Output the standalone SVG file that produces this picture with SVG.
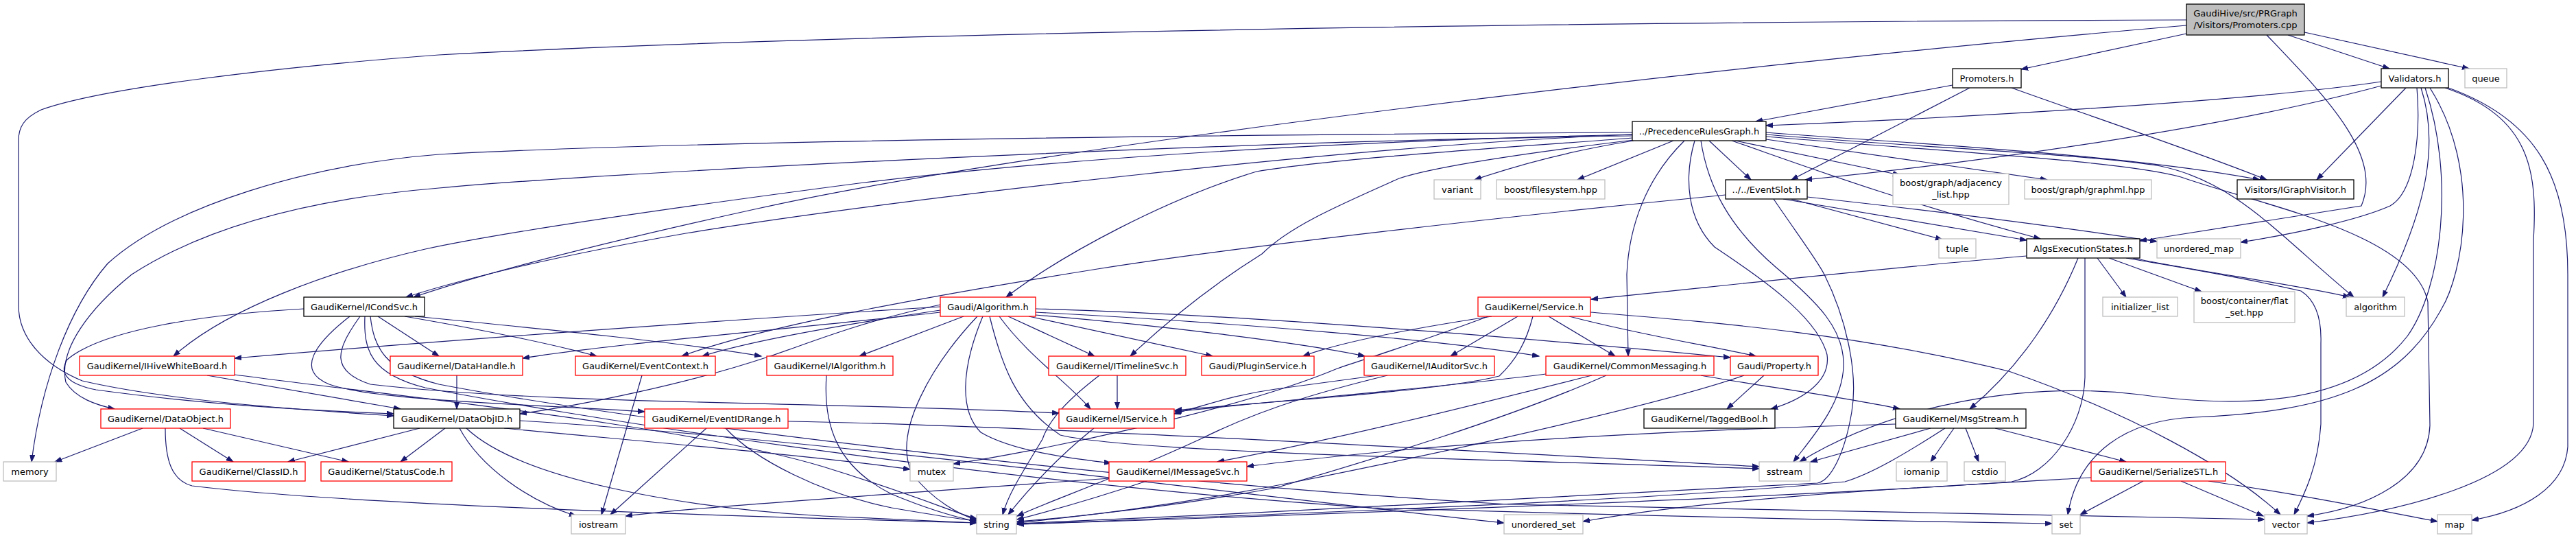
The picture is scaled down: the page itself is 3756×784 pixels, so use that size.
<svg xmlns="http://www.w3.org/2000/svg" width="3756" height="784" viewBox="0 0 3756 784">
<style>
.e{fill:none;stroke:#191970;stroke-width:1.2;marker-end:url(#ah)}
.nb{fill:#fff;stroke:#000;stroke-width:1.3}
.nr{fill:#fff;stroke:#ff0000;stroke-width:1.3}
.ng{fill:#fff;stroke:#bfbfbf;stroke-width:1.3}
.nroot{fill:#bfbfbf;stroke:#000;stroke-width:1.3}
text{font-family:"DejaVu Sans","Liberation Sans",sans-serif;font-size:13px;text-anchor:middle;fill:#000}
</style>
<defs>
<marker id="ah" markerWidth="12" markerHeight="9" refX="10" refY="4" orient="auto" markerUnits="userSpaceOnUse"><path d="M0,0.5 L10,4 L0,7.5 z" fill="#191970" stroke="#191970" stroke-width="1"/></marker>
</defs>
<rect width="3756" height="784" fill="#fff"/>
<g id="edges">
<path class="e" d="M3188,49 L2947,101"/>
<path class="e" d="M3336,51 L3484,100"/>
<path class="e" d="M3360,47 L3600,100"/>
<path class="e" d="M3305,51 C3390,140 3475,225 3443,300 L3120,351"/>
<path class="e" d="M3188,37 C2500,95 1500,215 1100,305 C850,360 700,400 603,433"/>
<path class="e" d="M3188,29 C2000,33 1100,55 640,80 C400,98 150,128 60,160 C35,172 27,185 27,205 L27,445 C27,490 60,530 120,555 C250,585 450,598 574,606"/>
<path class="e" d="M2847,124 L2560,177"/>
<path class="e" d="M2872,128 L2612,262"/>
<path class="e" d="M2933,128 C3050,170 3200,220 3305,262"/>
<path class="e" d="M3472,119 C3300,145 2900,170 2575,183"/>
<path class="e" d="M3472,125 C3250,185 2900,235 2632,262"/>
<path class="e" d="M3508,128 L3378,262"/>
<path class="e" d="M3524,128 C3530,200 3520,280 3485,300 C3440,320 3350,340 3267,353"/>
<path class="e" d="M3530,128 C3560,220 3530,320 3474,433"/>
<path class="e" d="M3536,128 C3580,260 3560,420 3510,490 C3440,580 3300,600 3120,575 C2950,555 2760,590 2624,673"/>
<path class="e" d="M3543,128 C3620,250 3590,400 3560,450 C3500,560 3400,600 3200,608 C3100,612 3030,660 3015,750"/>
<path class="e" d="M3565,128 C3690,170 3700,250 3694,350 L3694,617 C3690,700 3500,745 3364,762"/>
<path class="e" d="M3570,128 C3700,175 3744,260 3744,400 L3744,651 C3740,710 3680,745 3604,758"/>
<path class="e" d="M2492,205 L2553,262"/>
<path class="e" d="M2530,205 L2770,255"/>
<path class="e" d="M2575,203 L2985,262"/>
<path class="e" d="M2382,205 C2300,218 2220,238 2150,262"/>
<path class="e" d="M2440,205 L2300,262"/>
<path class="e" d="M2575,193 C2800,210 3100,225 3295,262"/>
<path class="e" d="M2575,196 C2800,215 3050,225 3150,242 C3260,265 3320,340 3432,433"/>
<path class="e" d="M2575,199 C2850,222 3100,235 3180,258 C3300,300 3520,340 3540,440 L3543,620 C3540,700 3450,740 3364,752"/>
<path class="e" d="M2525,205 C2640,245 2760,290 2975,348"/>
<path class="e" d="M2456,205 C2400,260 2375,330 2372,400 L2374,519"/>
<path class="e" d="M2471,205 C2455,260 2460,320 2500,360 C2560,400 2650,460 2664,517 C2670,560 2620,585 2582,596"/>
<path class="e" d="M2480,205 C2490,270 2520,330 2590,390 C2650,440 2690,480 2688,534 C2686,590 2640,640 2615,673"/>
<path class="e" d="M2380,196 C2000,210 1300,290 1000,340 C800,375 680,405 592,433"/>
<path class="e" d="M2380,201 C2200,215 1950,230 1832,250 C1700,290 1550,370 1467,433"/>
<path class="e" d="M2382,204 C2250,220 2100,240 2040,260 C1950,300 1880,330 1840,370 C1760,420 1700,470 1648,519"/>
<path class="e" d="M2380,196 C2000,205 1600,225 1260,266 C1000,300 750,335 620,363 C480,395 330,450 253,519"/>
<path class="e" d="M2380,198 C1800,205 900,250 640,274 C450,290 300,330 192,400 C130,450 85,510 96,557 C110,580 140,590 167,596"/>
<path class="e" d="M2380,193 C1800,196 1000,205 640,225 C450,240 250,300 157,384 C100,450 60,560 46,673"/>
<path class="e" d="M2516,284 C2200,315 1800,360 1600,392 C1300,440 1100,480 994,519"/>
<path class="e" d="M2600,290 L2955,350"/>
<path class="e" d="M2612,290 L2832,349"/>
<path class="e" d="M2635,287 C2800,305 3000,330 3145,352"/>
<path class="e" d="M2586,290 C2620,340 2650,380 2660,400 C2690,460 2710,540 2700,600 C2690,660 2670,700 2650,704 C2400,720 1900,745 1483,763"/>
<path class="e" d="M2955,373 C2700,395 2500,418 2320,436"/>
<path class="e" d="M3030,376 C3000,450 2950,530 2872,596"/>
<path class="e" d="M3058,376 L3100,433"/>
<path class="e" d="M3075,376 L3210,425"/>
<path class="e" d="M3110,376 C3200,395 3350,415 3426,433"/>
<path class="e" d="M3100,376 C3150,385 3250,400 3355,424 C3380,440 3385,470 3384,500 L3384,618 C3380,680 3360,720 3345,750"/>
<path class="e" d="M3040,376 L3040,550 C3038,620 2990,690 2933,702 C2700,720 2000,748 1483,764"/>
<path class="e" d="M443,450 C300,458 150,480 98,524 C85,545 100,560 140,568 C300,590 450,598 574,603"/>
<path class="e" d="M551,461 L640,519"/>
<path class="e" d="M590,461 C700,480 800,500 870,519"/>
<path class="e" d="M605,461 C800,480 1000,500 1110,519"/>
<path class="e" d="M510,461 C460,500 430,540 480,560 C550,585 800,590 940,600"/>
<path class="e" d="M525,461 C490,510 480,540 540,560 C800,590 1200,585 1544,602"/>
<path class="e" d="M532,461 C530,510 540,545 620,565 C800,600 1400,700 2000,740 C2500,755 2800,760 2992,763"/>
<path class="e" d="M540,461 C545,505 560,540 640,560 C900,610 1600,700 2200,735 C2800,748 3100,752 3302,757"/>
<path class="e" d="M1371,447 C1000,470 600,500 342,522"/>
<path class="e" d="M1371,452 C1250,470 1100,495 1024,519"/>
<path class="e" d="M1371,455 C1150,480 900,500 762,522"/>
<path class="e" d="M1371,444 C1250,470 1180,500 1120,520 C1000,560 850,590 758,603"/>
<path class="e" d="M1405,461 L1253,519"/>
<path class="e" d="M1425,461 C1360,530 1300,630 1330,690 C1360,730 1400,750 1424,758"/>
<path class="e" d="M1433,461 C1400,540 1400,600 1430,630 C1480,660 1580,670 1620,675"/>
<path class="e" d="M1443,461 C1460,530 1480,590 1546,634 C1650,660 2200,670 2565,683"/>
<path class="e" d="M1457,461 C1500,520 1560,560 1590,596"/>
<path class="e" d="M1470,461 L1596,519"/>
<path class="e" d="M1500,461 L1768,519"/>
<path class="e" d="M1510,450 C1800,458 2200,490 2523,521"/>
<path class="e" d="M1510,455 C1800,470 2100,495 2244,519"/>
<path class="e" d="M1510,459 C1700,475 1900,500 1990,519"/>
<path class="e" d="M1629,547 L1629,596"/>
<path class="e" d="M1603,547 C1560,580 1530,610 1520,640 C1490,690 1470,720 1462,750"/>
<path class="e" d="M2175,461 C2050,480 1950,500 1900,519"/>
<path class="e" d="M2213,461 L2115,519"/>
<path class="e" d="M2258,461 L2355,519"/>
<path class="e" d="M2288,461 C2400,490 2500,505 2560,519"/>
<path class="e" d="M2235,461 C2225,500 2210,525 2186,548 C2100,570 1850,585 1713,598"/>
<path class="e" d="M2170,461 C2080,495 2000,520 1950,537 C1800,600 1500,660 1390,676"/>
<path class="e" d="M2319,455 C2500,470 2700,485 2929,541 C3100,600 3250,680 3325,750"/>
<path class="e" d="M2009,547 C1950,555 1900,562 1860,567 C1800,575 1760,590 1712,603"/>
<path class="e" d="M2023,547 C1950,565 1850,590 1750,640 C1620,700 1530,730 1483,752"/>
<path class="e" d="M2321,547 C2150,590 1950,640 1775,673"/>
<path class="e" d="M2480,547 C2550,560 2700,580 2770,596"/>
<path class="e" d="M2342,547 C2200,610 2000,670 1860,711 C1700,740 1550,755 1483,760"/>
<path class="e" d="M2254,545 C2100,565 1900,580 1713,600"/>
<path class="e" d="M2572,547 L2518,596"/>
<path class="e" d="M2543,547 C2450,580 2200,640 1900,700 C1700,740 1550,755 1483,762"/>
<path class="e" d="M1595,624 C1550,660 1510,700 1470,750"/>
<path class="e" d="M2815,624 L2640,673"/>
<path class="e" d="M2849,624 L2815,673"/>
<path class="e" d="M2866,624 L2885,673"/>
<path class="e" d="M2909,624 L3100,673"/>
<path class="e" d="M2836,624 C2780,660 2730,690 2690,702 C2400,730 1900,748 1483,764"/>
<path class="e" d="M2764,618 C2500,625 2200,640 2000,660 C1900,670 1850,675 1818,680"/>
<path class="e" d="M1617,697 C1300,720 1000,740 912,752"/>
<path class="e" d="M1672,701 C1600,725 1530,745 1483,757"/>
<path class="e" d="M3125,701 L3033,750"/>
<path class="e" d="M3180,701 L3300,752"/>
<path class="e" d="M3220,701 C3350,720 3450,740 3554,760"/>
<path class="e" d="M3049,696 C2800,710 2500,725 2308,760"/>
<path class="e" d="M1205,547 C1200,620 1220,680 1300,720 C1360,745 1400,755 1424,760"/>
<path class="e" d="M666,547 L666,596"/>
<path class="e" d="M936,547 L877,750"/>
<path class="e" d="M1030,624 L890,750"/>
<path class="e" d="M1058,624 C1100,670 1200,720 1300,740 C1370,752 1400,757 1424,759"/>
<path class="e" d="M1149,614 C1500,620 2200,660 2565,680"/>
<path class="e" d="M612,624 L420,673"/>
<path class="e" d="M649,624 L584,673"/>
<path class="e" d="M670,624 C700,680 770,730 840,752"/>
<path class="e" d="M680,624 C760,700 1000,740 1200,752 C1320,758 1390,760 1424,762"/>
<path class="e" d="M735,624 C900,640 1200,665 1327,684"/>
<path class="e" d="M758,613 C1200,640 1800,720 2193,762"/>
<path class="e" d="M208,624 L80,673"/>
<path class="e" d="M262,624 L340,673"/>
<path class="e" d="M296,624 L508,673"/>
<path class="e" d="M241,624 C241,670 250,700 280,708 C500,735 1000,750 1424,762"/>
<path class="e" d="M302,547 L584,596"/>
<path class="e" d="M342,546 C600,580 1000,620 1200,680 C1330,720 1400,750 1424,756"/>
</g>
<g id="n_root"><rect class="nroot" x="3188" y="6" width="172" height="45"/><text x="3274" y="24">GaudiHive/src/PRGraph</text><text x="3274" y="41">/Visitors/Promoters.cpp</text></g>
<g id="n_promoters"><rect class="nb" x="2847" y="100" width="100" height="28"/><text x="2897" y="118.5">Promoters.h</text></g>
<g id="n_validators"><rect class="nb" x="3472" y="100" width="98" height="28"/><text x="3521" y="118.5">Validators.h</text></g>
<g id="n_queue"><rect class="ng" x="3594" y="100" width="61" height="28"/><text x="3624.5" y="118.5">queue</text></g>
<g id="n_prg"><rect class="nb" x="2380" y="177" width="195" height="28"/><text x="2477.5" y="195.5">../PrecedenceRulesGraph.h</text></g>
<g id="n_eventslot"><rect class="nb" x="2516" y="262" width="119" height="28"/><text x="2575.5" y="280.5">../../EventSlot.h</text></g>
<g id="n_igv"><rect class="nb" x="3262" y="262" width="170" height="28"/><text x="3347" y="280.5">Visitors/IGraphVisitor.h</text></g>
<g id="n_bal"><rect class="ng" x="2760" y="253" width="169" height="45"/><text x="2844.5" y="271">boost/graph/adjacency</text><text x="2844.5" y="288">_list.hpp</text></g>
<g id="n_bgm"><rect class="ng" x="2952" y="262" width="185" height="28"/><text x="3044.5" y="280.5">boost/graph/graphml.hpp</text></g>
<g id="n_variant"><rect class="ng" x="2091" y="262" width="68" height="28"/><text x="2125" y="280.5">variant</text></g>
<g id="n_bfs"><rect class="ng" x="2182" y="262" width="158" height="28"/><text x="2261" y="280.5">boost/filesystem.hpp</text></g>
<g id="n_tuple"><rect class="ng" x="2827" y="348" width="54" height="28"/><text x="2854" y="366.5">tuple</text></g>
<g id="n_aes"><rect class="nb" x="2955" y="348" width="165" height="28"/><text x="3037.5" y="366.5">AlgsExecutionStates.h</text></g>
<g id="n_umap"><rect class="ng" x="3145" y="348" width="122" height="28"/><text x="3206" y="366.5">unordered_map</text></g>
<g id="n_icondsvc"><rect class="nb" x="443" y="433" width="176" height="28"/><text x="531" y="451.5">GaudiKernel/ICondSvc.h</text></g>
<g id="n_galgorithm"><rect class="nr" x="1371" y="433" width="139" height="28"/><text x="1440.5" y="451.5">Gaudi/Algorithm.h</text></g>
<g id="n_service"><rect class="nr" x="2155" y="433" width="164" height="28"/><text x="2237" y="451.5">GaudiKernel/Service.h</text></g>
<g id="n_initlist"><rect class="ng" x="3066" y="433" width="109" height="28"/><text x="3120.5" y="451.5">initializer_list</text></g>
<g id="n_flatset"><rect class="ng" x="3199" y="425" width="147" height="45"/><text x="3272.5" y="443">boost/container/flat</text><text x="3272.5" y="460">_set.hpp</text></g>
<g id="n_algorithm"><rect class="ng" x="3421" y="433" width="85" height="28"/><text x="3463.5" y="451.5">algorithm</text></g>
<g id="n_ihwb"><rect class="nr" x="116" y="519" width="226" height="28"/><text x="229" y="537.5">GaudiKernel/IHiveWhiteBoard.h</text></g>
<g id="n_datahandle"><rect class="nr" x="569" y="519" width="193" height="28"/><text x="665.5" y="537.5">GaudiKernel/DataHandle.h</text></g>
<g id="n_eventcontext"><rect class="nr" x="839" y="519" width="204" height="28"/><text x="941" y="537.5">GaudiKernel/EventContext.h</text></g>
<g id="n_ialgorithm"><rect class="nr" x="1118" y="519" width="184" height="28"/><text x="1210" y="537.5">GaudiKernel/IAlgorithm.h</text></g>
<g id="n_itimeline"><rect class="nr" x="1529" y="519" width="200" height="28"/><text x="1629" y="537.5">GaudiKernel/ITimelineSvc.h</text></g>
<g id="n_pluginsvc"><rect class="nr" x="1752" y="519" width="164" height="28"/><text x="1834" y="537.5">Gaudi/PluginService.h</text></g>
<g id="n_iauditor"><rect class="nr" x="1989" y="519" width="190" height="28"/><text x="2084" y="537.5">GaudiKernel/IAuditorSvc.h</text></g>
<g id="n_commonmsg"><rect class="nr" x="2254" y="519" width="245" height="28"/><text x="2376.5" y="537.5">GaudiKernel/CommonMessaging.h</text></g>
<g id="n_property"><rect class="nr" x="2523" y="519" width="128" height="28"/><text x="2587" y="537.5">Gaudi/Property.h</text></g>
<g id="n_dataobject"><rect class="nr" x="147" y="596" width="189" height="28"/><text x="241.5" y="614.5">GaudiKernel/DataObject.h</text></g>
<g id="n_dataobjid"><rect class="nb" x="574" y="596" width="184" height="28"/><text x="666" y="614.5">GaudiKernel/DataObjID.h</text></g>
<g id="n_eventidrange"><rect class="nr" x="940" y="596" width="209" height="28"/><text x="1044.5" y="614.5">GaudiKernel/EventIDRange.h</text></g>
<g id="n_iservice"><rect class="nr" x="1544" y="596" width="168" height="28"/><text x="1628" y="614.5">GaudiKernel/IService.h</text></g>
<g id="n_taggedbool"><rect class="nb" x="2397" y="596" width="191" height="28"/><text x="2492.5" y="614.5">GaudiKernel/TaggedBool.h</text></g>
<g id="n_msgstream"><rect class="nb" x="2764" y="596" width="190" height="28"/><text x="2859" y="614.5">GaudiKernel/MsgStream.h</text></g>
<g id="n_memory"><rect class="ng" x="5" y="673" width="77" height="28"/><text x="43.5" y="691.5">memory</text></g>
<g id="n_classid"><rect class="nr" x="280" y="673" width="165" height="28"/><text x="362.5" y="691.5">GaudiKernel/ClassID.h</text></g>
<g id="n_statuscode"><rect class="nr" x="468" y="673" width="191" height="28"/><text x="563.5" y="691.5">GaudiKernel/StatusCode.h</text></g>
<g id="n_mutex"><rect class="ng" x="1327" y="673" width="63" height="28"/><text x="1358.5" y="691.5">mutex</text></g>
<g id="n_imessagesvc"><rect class="nr" x="1617" y="673" width="201" height="28"/><text x="1717.5" y="691.5">GaudiKernel/IMessageSvc.h</text></g>
<g id="n_sstream"><rect class="ng" x="2565" y="673" width="74" height="28"/><text x="2602" y="691.5">sstream</text></g>
<g id="n_iomanip"><rect class="ng" x="2765" y="673" width="74" height="28"/><text x="2802" y="691.5">iomanip</text></g>
<g id="n_cstdio"><rect class="ng" x="2864" y="673" width="60" height="28"/><text x="2894" y="691.5">cstdio</text></g>
<g id="n_serializestl"><rect class="nr" x="3049" y="673" width="196" height="28"/><text x="3147" y="691.5">GaudiKernel/SerializeSTL.h</text></g>
<g id="n_iostream"><rect class="ng" x="833" y="750" width="79" height="28"/><text x="872.5" y="768.5">iostream</text></g>
<g id="n_string"><rect class="ng" x="1424" y="750" width="58" height="28"/><text x="1453" y="768.5">string</text></g>
<g id="n_uset"><rect class="ng" x="2193" y="750" width="115" height="28"/><text x="2250.5" y="768.5">unordered_set</text></g>
<g id="n_set"><rect class="ng" x="2992" y="750" width="41" height="28"/><text x="3012.5" y="768.5">set</text></g>
<g id="n_vector"><rect class="ng" x="3302" y="750" width="62" height="28"/><text x="3333" y="768.5">vector</text></g>
<g id="n_map"><rect class="ng" x="3554" y="750" width="50" height="28"/><text x="3579" y="768.5">map</text></g>
</svg>
